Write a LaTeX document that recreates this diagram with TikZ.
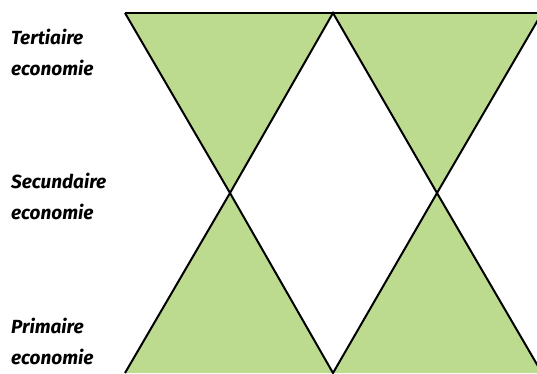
\documentclass[tikz,border=0pt]{standalone}
\usepackage{fontspec}
\setmainfont{Fira Sans}
\usetikzlibrary{positioning}
\definecolor{sectorgreen}{HTML}{BDDB8F}

\begin{document}
\begin{tikzpicture}[x=1pt, y=-1pt,
  sector/.style={fill=sectorgreen},
  edge/.style={draw=black, line width=2pt, line join=miter},
  level/.style={anchor=west, align=left, inner sep=0pt,
                font=\bfseries\itshape\fontsize{19}{31}\selectfont}
]
  \useasboundingbox (0,0) rectangle (537,373);
  \clip (0,0) rectangle (537,373);

  % corner points of the triangles
  \coordinate (tl) at (125,13);
  \coordinate (tm) at (333,13);
  \coordinate (tr) at (542,13);
  \coordinate (ml) at (230,193);
  \coordinate (mr) at (437,193);
  \coordinate (bl) at (125,373);
  \coordinate (bm) at (333,373);
  \coordinate (br) at (542,373);

  % green sectors
  \fill[sector] (tl) -- (tm) -- (ml) -- cycle;
  \fill[sector] (tm) -- (tr) -- (mr) -- cycle;
  \fill[sector] (ml) -- (bl) -- (bm) -- cycle;
  \fill[sector] (mr) -- (bm) -- (br) -- cycle;

  % outlines
  \draw[edge] (tl) -- (tr);
  \draw[edge] (tl) -- (ml) -- (bm) -- (mr) -- (tr);
  \draw[edge] (bl) -- (ml) -- (tm) -- (mr) -- (br);

  % level names
  \node[level] (tert) at (11,52) {Tertiaire\\economie};
  \node[level] (secu) at (11,196) {Secundaire\\economie};
  \node[level] (prim) at (11,341) {Primaire\\economie};
\end{tikzpicture}
\end{document}
